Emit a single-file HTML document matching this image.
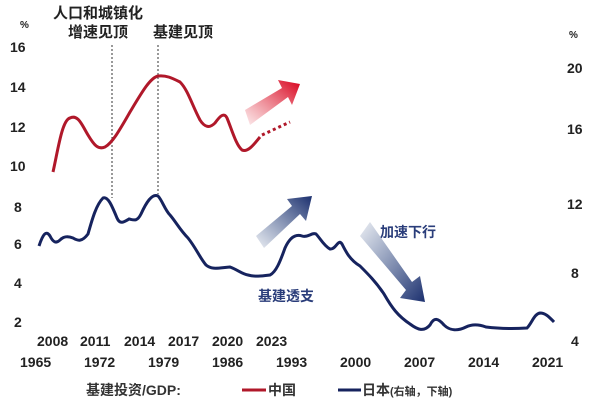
<!DOCTYPE html>
<html><head><meta charset="utf-8"><style>
body{margin:0;background:#fff;}
svg text{font-family:"Liberation Sans","Noto Sans CJK SC",sans-serif;}
</style></head><body>
<svg width="614" height="405" viewBox="0 0 614 405" xmlns="http://www.w3.org/2000/svg">
<defs>
<linearGradient id="rg" x1="0" y1="1" x2="1" y2="0"><stop offset="0" stop-color="#e03040" stop-opacity="0.1"/><stop offset="1" stop-color="#d8001c"/></linearGradient>
<linearGradient id="bg1" x1="0" y1="1" x2="1" y2="0"><stop offset="0" stop-color="#2a4780" stop-opacity="0.1"/><stop offset="1" stop-color="#1b2f6e"/></linearGradient>
<linearGradient id="bg2" x1="0" y1="0" x2="1" y2="1"><stop offset="0" stop-color="#2a4780" stop-opacity="0.1"/><stop offset="1" stop-color="#1b2f6e"/></linearGradient>
</defs>
<g font-size="14" fill="#222" font-weight="bold">
<text x="20" y="28" font-size="10">%</text>
<text x="10" y="52">16</text><text x="10" y="92">14</text><text x="10" y="132">12</text><text x="10" y="171">10</text>
<text x="14" y="212">8</text><text x="14" y="249">6</text><text x="14" y="288">4</text><text x="14" y="327">2</text>
<text x="569" y="38" font-size="10">%</text>
<text x="567" y="73">20</text><text x="567" y="134">16</text><text x="567" y="209">12</text><text x="571" y="278">8</text><text x="571" y="346">4</text>
<text x="37" y="346">2008</text><text x="80" y="346">2011</text><text x="124" y="346">2014</text><text x="168" y="346">2017</text><text x="212" y="346">2020</text><text x="256" y="346">2023</text>
<text x="20" y="367">1965</text><text x="84" y="367">1972</text><text x="148" y="367">1979</text><text x="212" y="367">1986</text><text x="276" y="367">1993</text><text x="340" y="367">2000</text><text x="404" y="367">2007</text><text x="468" y="367">2014</text><text x="532" y="367">2021</text>
<text x="53" y="18" font-size="15">人口和城镇化</text>
<text x="68" y="37" font-size="15">增速见顶</text>
<text x="153" y="37" font-size="15">基建见顶</text>
</g>
<line x1="112" y1="45" x2="112" y2="198" stroke="#333" stroke-width="1" stroke-dasharray="2,2"/>
<line x1="158" y1="45" x2="158" y2="194" stroke="#333" stroke-width="1" stroke-dasharray="2,2"/>
<polygon points="245,110 282,88 278,80 300,84 292,105 288,97 250,125" fill="url(#rg)"/>
<polygon points="256,236 292,206 287,199 312,196 306,221 300,214 264,248" fill="url(#bg1)"/>
<polygon points="370,222 412,282 420,276 425,302 400,298 406,290 360,236" fill="url(#bg2)"/>
<path d="M53,172 C58,150 62,120 70,118 C78,114 82,125 88,135 C94,145 98,150 105,147 C112,143 118,133 130,112 C142,92 150,78 158,76 C166,75 172,78 180,82 C188,90 192,105 200,120 C205,128 210,128 215,123 C220,116 224,112 227,118 C232,130 236,145 242,150 C248,153 255,143 260,137" fill="none" stroke="#b0182a" stroke-width="3"/>
<path d="M262,135 L290,122" fill="none" stroke="#b0182a" stroke-width="3" stroke-dasharray="3,3"/>
<path d="M39,246 C43,234 46,230 50,236 C53,242 56,244 60,240 C64,236 68,236 73,238 C78,241 82,242 88,234 C92,220 96,205 103,198 C108,196 112,206 117,218 C120,225 124,222 129,219 C134,220 137,222 141,214 C146,203 152,193 158,196 C162,200 165,210 170,215 C176,222 180,230 188,238 C196,248 200,258 206,265 C212,270 218,268 230,267 C238,270 242,274 248,275 C255,277 262,276 270,275 C276,272 280,262 285,248 C290,237 296,234 302,236 C308,238 312,232 316,234 C320,238 324,246 330,249 C336,250 338,238 342,244 C346,252 350,260 360,266 C368,274 376,282 384,294 C392,308 398,316 410,324 C418,330 424,332 430,325 C434,317 438,318 444,325 C450,331 458,331 466,327 C472,324 478,324 486,327 C494,328 510,329 527,328 C532,323 534,314 540,313 C546,313 550,318 554,322" fill="none" stroke="#16235e" stroke-width="3"/>
<g font-size="14" font-weight="bold" fill="#2a3d7a">
<text x="258" y="301">基建透支</text>
<text x="380" y="237">加速下行</text>
</g>
<g font-size="14" font-weight="bold" fill="#333">
<text x="86" y="395">基建投资/GDP:</text>
<line x1="242" y1="390" x2="266" y2="390" stroke="#b0182a" stroke-width="3"/>
<text x="268" y="395">中国</text>
<line x1="338" y1="390" x2="361" y2="390" stroke="#16235e" stroke-width="3"/>
<text x="362" y="395">日本<tspan font-size="11">(右轴，下轴)</tspan></text>
</g>
</svg>
</body></html>
